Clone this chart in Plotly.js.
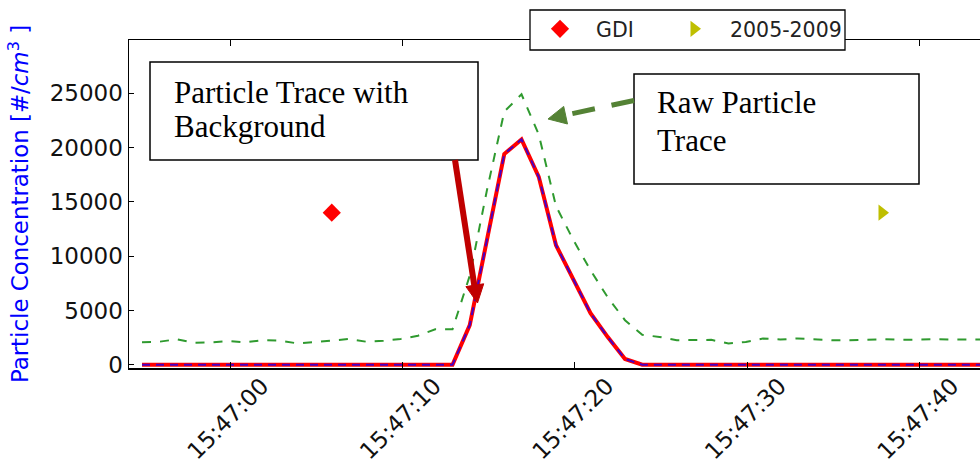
<!DOCTYPE html>
<html>
<head>
<meta charset="utf-8">
<script src="https://cdn.plot.ly/plotly-3.0.1.min.js"></script>
<style>
  html, body { margin: 0; padding: 0; background: #fff; overflow: hidden; }
  #chart { width: 980px; height: 466px; }
</style>
</head>
<body>
<div id="chart"></div>
<script>
// ---------------- data ----------------
const sampleTimes = [
  '2015-06-01 15:46:54.9','2015-06-01 15:46:55.9','2015-06-01 15:46:56.9','2015-06-01 15:46:57.9',
  '2015-06-01 15:46:58.9','2015-06-01 15:46:59.9','2015-06-01 15:47:00.9','2015-06-01 15:47:01.9',
  '2015-06-01 15:47:02.9','2015-06-01 15:47:03.9','2015-06-01 15:47:04.9','2015-06-01 15:47:05.9',
  '2015-06-01 15:47:06.9','2015-06-01 15:47:07.9','2015-06-01 15:47:08.9','2015-06-01 15:47:09.9',
  '2015-06-01 15:47:10.9','2015-06-01 15:47:11.9','2015-06-01 15:47:12.9','2015-06-01 15:47:13.9',
  '2015-06-01 15:47:14.9','2015-06-01 15:47:15.9','2015-06-01 15:47:16.9','2015-06-01 15:47:17.9',
  '2015-06-01 15:47:18.9','2015-06-01 15:47:19.9','2015-06-01 15:47:20.9','2015-06-01 15:47:21.9',
  '2015-06-01 15:47:22.9','2015-06-01 15:47:23.9','2015-06-01 15:47:24.9','2015-06-01 15:47:25.9',
  '2015-06-01 15:47:26.9','2015-06-01 15:47:27.9','2015-06-01 15:47:28.9','2015-06-01 15:47:29.9',
  '2015-06-01 15:47:30.9','2015-06-01 15:47:31.9','2015-06-01 15:47:32.9','2015-06-01 15:47:33.9',
  '2015-06-01 15:47:34.9','2015-06-01 15:47:35.9','2015-06-01 15:47:36.9','2015-06-01 15:47:37.9',
  '2015-06-01 15:47:38.9','2015-06-01 15:47:39.9','2015-06-01 15:47:40.9','2015-06-01 15:47:41.9',
  '2015-06-01 15:47:42.9','2015-06-01 15:47:43.9'
];

// Raw particle trace (green dashed)
const rawTrace = [
  2060, 2120, 2340, 2030, 2060, 2180, 2060, 2270, 2210, 1970,
  2090, 2210, 2370, 2120, 2210, 2370, 2670, 3260, 3260, 8200,
  16100, 23300, 24900, 21200, 14600, 11500, 8700, 6200, 4100, 2750,
  2560, 2260, 2260, 2290, 1960, 2100, 2420, 2320, 2420, 2320,
  2260, 2260, 2320, 2350, 2290, 2350, 2350, 2320, 2320, 2320
];

// Particle trace with background removed (red solid / blue dashed)
const bgTrace = [
  0, 0, 0, 0, 0, 0, 0, 0, 0, 0,
  0, 0, 0, 0, 0, 0, 0, 0, 0, 3650,
  11500, 19400, 20750, 17300, 11000, 7900, 4750, 2550, 530, 0,
  0, 0, 0, 0, 0, 0, 0, 0, 0, 0,
  0, 0, 0, 0, 0, 0, 0, 0, 0, 0
];

const gdiTime = ['2015-06-01 15:47:05.9'];
const gdiValue = [14000];
const periodTime = ['2015-06-01 15:47:37.8'];
const periodValue = [14000];

const yTickVals = [0, 5000, 10000, 15000, 20000, 25000];
const yTickText = ['0', '5000', '10000', '15000', '20000', '25000'];
const xRange = ['2015-06-01 15:46:54.145', '2015-06-01 15:47:43.48'];
const yRange = [-300, 29900];

// ---------------- layout helpers (pixel -> paper) ----------------
const M = { l: 129, r: 0, t: 40, b: 98 };
const W = 980, H = 466;
const PW = W - M.l - M.r, PH = H - M.t - M.b;
const px = x => (x - M.l) / PW;
const py = y => (H - M.b - y) / PH;
const tri = pts => 'M' + pts.map(p => px(p[0]).toFixed(5) + ',' + py(p[1]).toFixed(5)).join(' L') + ' Z';

const traces = [
  { x: sampleTimes, y: rawTrace, type: 'scatter', mode: 'lines', showlegend: false,
    line: { color: '#2f9a2f', width: 2, dash: '9px,9px' }, hoverinfo: 'skip' },
  { x: sampleTimes, y: bgTrace, type: 'scatter', mode: 'lines', showlegend: false,
    line: { color: '#ff0000', width: 4 }, hoverinfo: 'skip' },
  { x: sampleTimes, y: bgTrace, type: 'scatter', mode: 'lines', showlegend: false,
    line: { color: 'rgba(40,0,230,0.85)', width: 2, dash: '8px,6px' }, hoverinfo: 'skip' },
  { x: gdiTime, y: gdiValue, type: 'scatter', mode: 'markers', name: 'GDI', legend: 'legend',
    marker: { symbol: 'diamond', color: '#ff0000', size: 14 } },
  { x: periodTime, y: periodValue, type: 'scatter', mode: 'markers', name: '2005-2009', legend: 'legend2',
    marker: { symbol: 'triangle-right', color: '#bfbf00', size: 14 } }
];

const serif = { family: 'Liberation Serif, Times New Roman, serif', size: 31, color: '#000' };
const legendFont = { family: 'DejaVu Sans', size: 20.5, color: '#222' };

const layout = {
  width: W, height: H,
  margin: M,
  paper_bgcolor: '#fff', plot_bgcolor: '#fff',
  showlegend: true,
  legend: {
    orientation: 'h', x: px(524), xanchor: 'left', y: py(9), yanchor: 'top',
    bgcolor: 'rgba(0,0,0,0)', borderwidth: 0, font: legendFont, itemwidth: 62
  },
  legend2: {
    orientation: 'h', x: px(658), xanchor: 'left', y: py(9), yanchor: 'top',
    bgcolor: 'rgba(0,0,0,0)', borderwidth: 0, font: legendFont, itemwidth: 62
  },
  xaxis: {
    type: 'date', range: xRange,
    tickformat: '%H:%M:%S', dtick: 10000, tick0: '2015-06-01 15:47:00',
    tickangle: -45, ticklabelshift: 32, ticklabelstandoff: -6,
    tickfont: { family: 'DejaVu Sans', size: 23, color: '#111' },
    ticks: 'inside', ticklen: 6, tickwidth: 1, tickcolor: '#000',
    showline: true, linecolor: '#000', linewidth: 1.5, mirror: 'ticks',
    showgrid: false, zeroline: false
  },
  yaxis: {
    range: yRange, tickmode: 'array', tickvals: yTickVals, ticktext: yTickText,
    tickfont: { family: 'DejaVu Sans', size: 23, color: '#111' },
    ticks: 'inside', ticklen: 5, tickwidth: 1, tickcolor: '#000',
    showline: true, linecolor: '#000', linewidth: 1.5,
    showgrid: false, zeroline: false,
    title: { text: 'Particle Concentration [#/<i>cm</i><sup>3</sup> ]',
             font: { family: 'DejaVu Sans', size: 22.9, color: '#0000ff' }, standoff: 14 }
  },
  shapes: [
    // legend frame
    { type: 'rect', xref: 'paper', yref: 'paper', layer: 'above',
      x0: px(530), x1: px(845), y0: py(50), y1: py(10),
      line: { color: '#000', width: 1.3 }, fillcolor: '#fff' },
    // annotation boxes
    { type: 'rect', xref: 'paper', yref: 'paper', layer: 'above',
      x0: px(150), x1: px(478), y0: py(160), y1: py(62),
      line: { color: '#000', width: 1.5 }, fillcolor: '#fff' },
    { type: 'rect', xref: 'paper', yref: 'paper', layer: 'above',
      x0: px(634), x1: px(919), y0: py(184), y1: py(74),
      line: { color: '#000', width: 1.5 }, fillcolor: '#fff' },
    // red arrow (shaft + head)
    { type: 'line', xref: 'paper', yref: 'paper', layer: 'above',
      x0: px(455), y0: py(160), x1: px(475), y1: py(290),
      line: { color: '#c00000', width: 6 } },
    { type: 'path', xref: 'paper', yref: 'paper', layer: 'above',
      path: tri([[477.5, 303], [483.7, 283.8], [465.9, 286.6]]),
      fillcolor: '#c00000', line: { color: '#c00000', width: 1 } },
    // green dashed arrow (shaft + head)
    { type: 'line', xref: 'paper', yref: 'paper', layer: 'above',
      x0: px(634), y0: py(100.5), x1: px(568), y1: py(114.5),
      line: { color: '#548235', width: 5, dash: '23px,17px' } },
    { type: 'path', xref: 'paper', yref: 'paper', layer: 'above',
      path: tri([[548, 119], [567.5, 124.0], [563.7, 106.4]]),
      fillcolor: '#548235', line: { color: '#548235', width: 1 } }
  ],
  annotations: [
    { xref: 'paper', yref: 'paper', x: px(172), y: py(92), xanchor: 'left', yanchor: 'middle',
      text: 'Particle Trace with', showarrow: false, font: serif },
    { xref: 'paper', yref: 'paper', x: px(172), y: py(126), xanchor: 'left', yanchor: 'middle',
      text: 'Background', showarrow: false, font: serif },
    { xref: 'paper', yref: 'paper', x: px(655), y: py(103), xanchor: 'left', yanchor: 'middle',
      text: 'Raw Particle', showarrow: false, font: serif },
    { xref: 'paper', yref: 'paper', x: px(655), y: py(140), xanchor: 'left', yanchor: 'middle',
      text: 'Trace', showarrow: false, font: serif }
  ]
};

Plotly.newPlot('chart', traces, layout, { displayModeBar: false, staticPlot: true });
</script>
</body>
</html>
